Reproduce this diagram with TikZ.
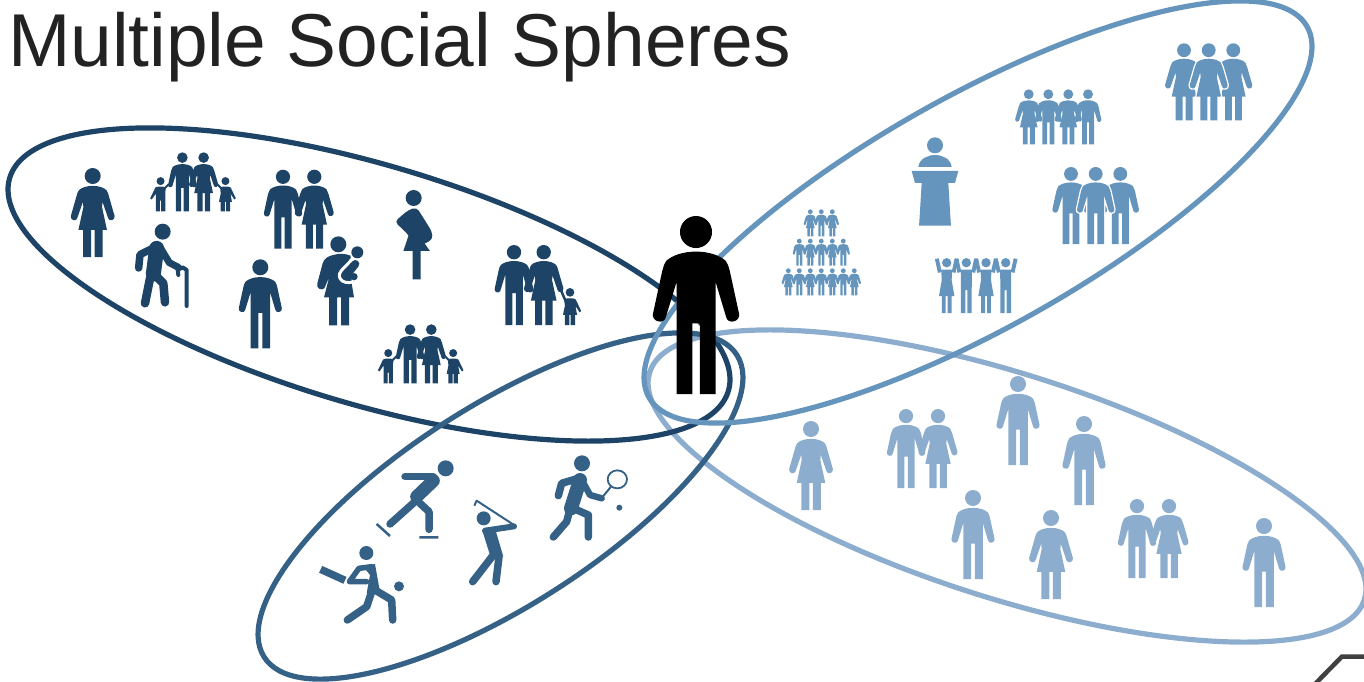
\documentclass[tikz,border=0pt]{standalone}
\usepackage{fontspec}
\setmainfont{Liberation Sans}
\usepackage{xcolor}
\definecolor{kinblue}{HTML}{1D4466}
\definecolor{sportblue}{HTML}{356186}
\definecolor{workblue}{HTML}{6595BC}
\definecolor{friendblue}{HTML}{8CADCD}
\definecolor{titlegray}{HTML}{222222}
\definecolor{cornergray}{HTML}{404040}
\tikzset{>=latex}
\tikzset{
	ring/.style={line width=5.2pt},
	limb/.style={line width=7.5pt,line cap=round,line join=round},
	halo/.style={fill=white,draw=white,line width=2.6pt},
}

\begin{document}
\begin{tikzpicture}[x=1pt,y=-1pt]
		\useasboundingbox (0,0) rectangle (1364,682);
		\def\manfig#1#2#3#4{ % #1 Style, #2 X, #3 Top, #4 Scale
			\begin{scope}[shift={(#2,#3)},scale=#4]
				\path[#1] (0,9) circle (9);
				\path[#1] (0,20) .. controls (-7,20) and (-13,22) .. (-16.5,25) .. controls (-18,27) and (-18.5,29) .. (-19,31) -- (-24.2,55) .. controls (-25,59.5) and (-18,61) .. (-17,57) -- (-10.9,37) -- (-10.9,100) -- (-2.1,100) -- (-2.1,60.3) -- (2.2,60.3) -- (2.2,100) -- (11,100) -- (11,37) -- (17,57) .. controls (18,61) and (25,59.5) .. (24.2,55) -- (19,31) .. controls (18.5,29) and (18,27) .. (16.5,25) .. controls (13,22) and (7,20) .. (0,20) -- cycle;
			\end{scope}
		}
		\def\womanfig#1#2#3#4{ % #1 Style, #2 X, #3 Top, #4 Scale
			\begin{scope}[shift={(#2,#3)},scale=#4]
				\path[#1] (0,9) circle (9);
				\path[#1] (0,20) .. controls (-6,20) and (-13,22) .. (-15.5,25) .. controls (-17,27) and (-17.5,29) .. (-18,31) -- (-24.6,54) .. controls (-25.4,59) and (-18.4,60.5) .. (-17.4,56.5) -- (-11,38) -- (-10.5,44) -- (-16,69.4) -- (-10.8,69.4) -- (-10.8,100) -- (-1.9,100) -- (-1.9,69.4) -- (2.2,69.4) -- (2.2,100) -- (11.2,100) -- (11.2,69.4) -- (16,69.4) -- (10.5,44) -- (11,38) -- (17.4,56.5) .. controls (18.4,60.5) and (25.4,59) .. (24.6,54) -- (18,31) .. controls (17.5,29) and (17,27) .. (15.5,25) .. controls (13,22) and (6,20) .. (0,20) -- cycle;
			\end{scope}
		}
		\def\boyfig#1#2#3#4{ % #1 Style, #2 X, #3 Top, #4 Scale
			\begin{scope}[shift={(#2,#3)},scale=#4]
				\path[#1] (0,6.8) circle (6.8);
				\path[#1] (0,16) -- (6,16.5) -- (9,18) -- (8,26) -- (8,58) -- (1,58) -- (1,40) -- (-1,40) -- (-1,58) -- (-8,58) -- (-8,28) -- (-15,38) -- (-17.5,36) -- (-9,18) -- (-6,16.5) -- cycle;
			\end{scope}
		}
		\def\girlfig#1#2#3#4{ % #1 Style, #2 X, #3 Top, #4 Scale
			\begin{scope}[shift={(#2,#3)},scale=#4]
				\path[#1] (0,6.8) circle (6.8);
				\path[#1] (0,16) -- (-6,16.5) -- (-9,18) -- (-8,28) -- (-11,42) -- (-8,42) -- (-8,58) -- (-1,58) -- (-1,42) -- (1,42) -- (1,58) -- (8,58) -- (8,42) -- (11,42) -- (8.5,28) -- (15,38) -- (17.5,36) -- (9,18) -- (6,16.5) -- cycle;
			\end{scope}
		}
		\def\familyfig#1#2#3#4#5{ % #1 Style, #2 Line colour, #3 X, #4 Top, #5 Scale
			\begin{scope}[shift={(#3,#4)},scale=#5]
				\manfig{#1}{-18}{0}{1}
				\womanfig{#1}{18}{0}{1}
				\boyfig{#1}{-55}{42}{1}
				\girlfig{#1}{55}{42}{1}
				\draw[#2,line width=2pt] (-41,54) -- (-48,61) (41,54) -- (48,61);
			\end{scope}
		}
		\def\cheerfig#1#2#3#4#5{ % #1 Style, #2 Line colour, #3 X, #4 Top, #5 Scale
			\begin{scope}[shift={(#3,#4)},scale=#5]
				\path[#1] (0,7.3) circle (8.5);
				\draw[#2,line width=3.9pt,line join=round] (-18,0) -- (-12.5,25) (18,0) -- (12.5,25);
				\path[#1] (-10,20) -- (10,20) -- (9.7,99) -- (1.8,99) -- (1.8,57) -- (-1.8,57) -- (-1.8,99) -- (-9.7,99) -- cycle;
			\end{scope}
		}
		\def\cheerdress#1#2#3#4#5{ % #1 Style, #2 Line colour, #3 X, #4 Top, #5 Scale
			\begin{scope}[shift={(#3,#4)},scale=#5]
				\path[#1] (0,7.3) circle (8.5);
				\draw[#2,line width=3.9pt,line join=round] (-18,0) -- (-12.5,25) (18,0) -- (12.5,25);
				\path[#1] (-10,20) -- (10,20) -- (9,38.8) -- (14,67.9) -- (9,67.9) -- (9,99) -- (1.8,99) -- (1.8,67.9) -- (-1.8,67.9) -- (-1.8,99) -- (-9,99) -- (-9,67.9) -- (-14,67.9) -- (-9,38.8) -- cycle;
			\end{scope}
		}

		% the four spheres
		\draw[ring,friendblue] (1007,486) ellipse [x radius=375,y radius=112.2,rotate=-17.66];
		\draw[ring,kinblue] (369,284.5) ellipse [x radius=374.8,y radius=119.8,rotate=-16.5];
		\draw[ring,sportblue] (500.5,506) ellipse [x radius=280.5,y radius=100.2,rotate=32.6];
		\draw[ring,workblue] (978,212) ellipse [x radius=377.7,y radius=115.7,rotate=29.4];

		\node[anchor=base west,inner sep=0pt,text=titlegray,font=\fontsize{74.9}{84}\selectfont] (title) at (8,66.7) {Multiple Social Spheres};

		% family sphere
		\womanfig{fill=kinblue}{92.7}{168}{.89}
		\familyfig{fill=kinblue}{kinblue}{193}{152.3}{.59}
		\manfig{fill=kinblue}{283}{169.7}{.79}
		\womanfig{fill=kinblue}{314.3}{169.7}{.79}
		\manfig{fill=kinblue}{260.3}{259.3}{.89}
		\familyfig{fill=kinblue}{kinblue}{420.7}{324.3}{.59}
		\manfig{fill=kinblue}{514}{245}{.8}
		\womanfig{fill=kinblue}{543.7}{245}{.8}
		\girlfig{fill=kinblue}{570}{288}{.64}
		\draw[kinblue,line width=2.5pt] (560,288) -- (566,302);
		\begin{scope}[shift={(0,120)},scale=1/3]
			% old man with cane
			\fill[kinblue] (488,335) circle (24);
			\draw[limb,kinblue] (458,385) -- (420,404) -- (416,444);
			\draw[limb,kinblue,line width=7pt] (482,385) -- (508,428) -- (535,442);
			\draw[limb,kinblue,line width=15pt] (470,385) -- (460,462);
			\draw[limb,kinblue,line width=8.5pt] (450,475) -- (435,550);
			\draw[limb,kinblue,line width=8.5pt] (462,462) -- (490,490) -- (495,547);
			\draw[kinblue,line width=4pt,line cap=round,line join=round] (535,465) -- (533,450) -- (548,442) -- (560,450) -- (560,558);
			% mother with baby
			\fill[kinblue] (1015,373) circle (24);
			\fill[kinblue] (1000,405) .. controls (1015,400) and (1035,400) .. (1052,407) -- (1055,490) -- (1062,532) -- (1047,532) -- (1047,616) -- (1023,616) -- (1023,532) -- (1011,532) -- (1011,616) -- (987,616) -- (987,532) -- (972,532) -- (988,470) -- (973,505) .. controls (965,513) and (947,505) .. (952,490) -- (968,430) .. controls (972,415) and (985,408) .. (1000,405) -- cycle;
			\draw[white,line width=3pt,line cap=round] (1055,418) .. controls (1040,440) and (1010,455) .. (1020,475) .. controls (1026,488) and (1045,490) .. (1058,486);
			\draw[limb,kinblue,line width=8pt] (1066,432) -- (1042,462);
			\fill[kinblue] (1072,397) circle (18);
			\fill[kinblue] (1062,470) circle (11);
			% pregnant woman
			\fill[kinblue] (1241,234) circle (24);
			\fill[kinblue,rounded corners=4pt] (1225,270) -- (1250,262) -- (1296,335) -- (1298,358) -- (1272,372) -- (1245,385) -- (1226,345) -- (1184,305) -- cycle;
			\fill[kinblue] (1226,345) -- (1272,368) -- (1290,393) -- (1262,393) -- (1262,478) -- (1238,478) -- (1238,393) -- (1210,393) -- cycle;
		\end{scope}

		% sports sphere
		\begin{scope}[shift={(260,440)},scale=1/3]
			% skater
			\fill[sportblue] (557,85) circle (24);
			\draw[limb,sportblue] (435,110) -- (520,110);
			\draw[limb,sportblue,line width=13pt] (520,122) -- (470,170);
			\draw[limb,sportblue] (465,185) -- (390,252);
			\draw[limb,sportblue] (480,190) -- (507,215) -- (507,268);
			\draw[sportblue,line width=2.5pt] (350,252) -- (390,288) (478,292) -- (535,292);
			% golfer
			\fill[sportblue] (671,235) circle (21);
			\fill[sportblue] (667,272) -- (705,265) -- (730,350) -- (690,345) -- cycle;
			\draw[limb,sportblue,line width=6pt] (675,272) -- (762,259);
			\draw[sportblue,line width=2pt,line join=round] (762,255) -- (650,182) -- (643,197);
			\draw[limb,sportblue] (700,345) -- (638,425);
			\draw[limb,sportblue] (717,350) -- (708,425);
			% tennis player
			\fill[sportblue] (966,70) circle (24);
			\draw[limb,sportblue,line width=14pt] (960,120) -- (933,205);
			\draw[limb,sportblue] (955,115) -- (905,130) -- (895,167);
			\draw[limb,sportblue,line width=6.5pt] (968,125) -- (990,165) -- (1025,175);
			\draw[sportblue,line width=1.8pt] (1072,118) ellipse [x radius=29,y radius=27];
			\draw[sportblue,line width=2pt] (1030,168) -- (1053,140);
			\fill[sportblue] (1078,203) circle (9);
			\draw[limb,sportblue] (928,215) -- (920,245) -- (880,291);
			\draw[limb,sportblue] (940,205) -- (985,225) -- (985,291);
			% batsman
			\fill[sportblue] (319,339) circle (21);
			\draw[sportblue,line width=7.5pt] (182,388) -- (255,421);
			\draw[limb,sportblue,line width=5.5pt] (335,380) -- (297,385) -- (268,425) -- (320,425);
			\fill[sportblue] (310,380) -- (345,372) -- (358,445) -- (320,460) -- (330,405) -- cycle;
			\draw[limb,sportblue] (335,455) -- (320,500) -- (262,540);
			\draw[limb,sportblue] (345,450) -- (395,480) -- (398,540);
			\fill[sportblue] (417,439) circle (15);
		\end{scope}

		% work sphere
		\foreach \px in {810.3,832.3} {\womanfig{fill=workblue}{\px}{209.3}{.27}}
		\manfig{fill=workblue}{821.3}{209.3}{.27}
		\foreach \px in {799.3,821.3,843.3} {\manfig{fill=workblue}{\px}{238.7}{.27}}
		\foreach \px in {810.3,832.3} {\womanfig{fill=workblue}{\px}{238.7}{.27}}
		\foreach \px in {788.3,810.3,832.3,854.3} {\womanfig{fill=workblue}{\px}{268.3}{.27}}
		\foreach \px in {799.3,821.3,843.3} {\manfig{fill=workblue}{\px}{268.3}{.27}}
		\begin{scope}[shift={(760,20)},scale=1/3]
			% speaker at lectern
			\fill[workblue] (525,376) circle (24);
			\fill[workblue] (475,441) .. controls (478,415) and (505,405) .. (525,405) .. controls (545,405) and (572,415) .. (575,441) -- cycle;
			\fill[workblue] (455,453) -- (595,453) -- (585,489) -- (565,489) -- (572,605) -- (573,617) -- (477,617) -- (478,605) -- (485,489) -- (465,489) -- cycle;
		\end{scope}
		\womanfig{fill=workblue}{1028.7}{89.3}{.55}
		\manfig{fill=workblue}{1048.3}{89.3}{.55}
		\womanfig{fill=workblue}{1068.3}{89.3}{.55}
		\manfig{fill=workblue}{1088}{89.3}{.55}
		\womanfig{fill=workblue}{1184}{43.3}{.77}
		\womanfig{fill=workblue}{1233.3}{43.3}{.77}
		\womanfig{halo}{1208.7}{43.3}{.77}
		\womanfig{fill=workblue}{1208.7}{43.3}{.77}
		\manfig{fill=workblue}{1071}{167}{.77}
		\manfig{fill=workblue}{1120.3}{167}{.77}
		\manfig{halo}{1095.7}{167}{.77}
		\manfig{fill=workblue}{1095.7}{167}{.77}
		\cheerdress{fill=workblue}{workblue}{946.7}{258.7}{.55}
		\cheerfig{fill=workblue}{workblue}{966.3}{258.7}{.55}
		\cheerdress{fill=workblue}{workblue}{986}{258.7}{.55}
		\cheerfig{fill=workblue}{workblue}{1005.7}{258.7}{.55}

		% friends sphere
		\womanfig{fill=friendblue}{811}{421}{.89}
		\manfig{fill=friendblue}{906}{409}{.79}
		\womanfig{fill=friendblue}{938}{409}{.79}
		\manfig{fill=friendblue}{1018}{376}{.89}
		\manfig{fill=friendblue}{1084}{416}{.89}
		\manfig{fill=friendblue}{973}{490}{.89}
		\womanfig{fill=friendblue}{1051}{510}{.89}
		\manfig{fill=friendblue}{1137}{499}{.79}
		\womanfig{fill=friendblue}{1169}{499}{.79}
		\manfig{fill=friendblue}{1264}{518}{.89}

		% person in the middle
		\manfig{fill=black}{696}{216}{1.78}

		\draw[cornergray,line width=4.5pt] (1315,684) -- (1342,656.5) -- (1364,656.5);
	\end{tikzpicture}
\end{document}
